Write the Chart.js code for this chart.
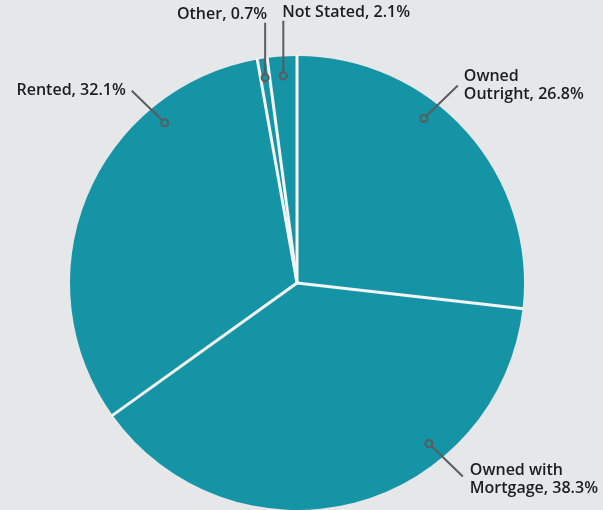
<!DOCTYPE html>
<html>
<head>
<meta charset="utf-8">
<script src="https://cdn.jsdelivr.net/npm/chart.js@4.4.1/dist/chart.umd.min.js"></script>
<style>
  html, body { margin: 0; padding: 0; background: #e6e7e9; }
  #wrap { width: 603px; height: 510px; position: relative; }
</style>
</head>
<body>
<div id="wrap"><canvas id="tenureChart"></canvas></div>
<script>
// Household tenure breakdown (percent of households)
const categories = [['Owned', 'Outright'], ['Owned with', 'Mortgage'], 'Rented', 'Other', 'Not Stated'];
const shares = [26.8, 38.3, 32.1, 0.7, 2.1];

// Where each callout sits: fraction across the slice, leader line offset, text offset/alignment
const callouts = [
    { frac: 0.39, line: [34, -33], text: [6, -9], align: 'left' },
    { frac: 0.32, line: [34, 33], text: [7, -6], align: 'left' },
    { frac: 0.745, line: [-33, -32], text: [-6, 0], align: 'right' },
    { frac: 0.5, line: [0, -55], text: [2, -8], align: 'right' },
    { frac: 0.5, line: [0, -55], text: [-1, -8], align: 'left' }
];

const sliceColor = '#1594a5';

// white separators between slices, drawn only along the radii (no rim outline)
const separatorPlugin = {
    id: 'separators',
    afterDatasetsDraw(chart) {
        const ctx = chart.ctx;
        ctx.save();
        ctx.strokeStyle = '#f4f4f4';
        ctx.lineWidth = 3;
        chart.getDatasetMeta(0).data.forEach(arc => {
            const { x, y, startAngle, outerRadius } = arc.getProps(['x', 'y', 'startAngle', 'outerRadius'], true);
            ctx.beginPath();
            ctx.moveTo(x, y);
            ctx.lineTo(x + Math.cos(startAngle) * (outerRadius + 1), y + Math.sin(startAngle) * (outerRadius + 1));
            ctx.stroke();
        });
        ctx.restore();
    }
};

const calloutPlugin = {
    id: 'callouts',
    afterDatasetsDraw(chart) {
        const ctx = chart.ctx;
        const arcs = chart.getDatasetMeta(0).data;
        ctx.save();
        ctx.font = '600 16px "Open Sans"';
        ctx.textBaseline = 'middle';
        arcs.forEach((arc, i) => {
            const c = callouts[i];
            const { x, y, startAngle, endAngle, outerRadius } = arc.getProps(['x', 'y', 'startAngle', 'endAngle', 'outerRadius'], true);
            const a = startAngle + (endAngle - startAngle) * c.frac;
            const r = outerRadius * 0.915;
            const px = x + Math.cos(a) * r;
            const py = y + Math.sin(a) * r;
            const ex = px + c.line[0];
            const ey = py + c.line[1];

            // leader line
            ctx.strokeStyle = '#5b5b5d';
            ctx.lineWidth = 2;
            ctx.beginPath();
            ctx.moveTo(px, py);
            ctx.lineTo(ex, ey);
            ctx.stroke();

            // small ring at the slice end
            ctx.fillStyle = sliceColor;
            ctx.beginPath();
            ctx.arc(px, py, 3.5, 0, Math.PI * 2);
            ctx.fill();
            ctx.stroke();

            // label text, last line carries the value
            const name = chart.data.labels[i];
            const lines = Array.isArray(name) ? name.slice() : [name];
            lines[lines.length - 1] += ', ' + shares[i] + '%';
            ctx.fillStyle = '#1d1d1f';
            ctx.textAlign = c.align;
            const lh = 18;
            lines.forEach((ln, k) => {
                ctx.fillText(ln, ex + c.text[0], ey + c.text[1] + k * lh);
            });
        });
        ctx.restore();
    }
};

new Chart(document.getElementById('tenureChart').getContext('2d'), {
    type: 'pie',
    data: {
        labels: categories,
        datasets: [{
            data: shares,
            backgroundColor: sliceColor,
            borderWidth: 0
        }]
    },
    options: {
        responsive: true,
        maintainAspectRatio: false,
        animation: false,
        layout: {
            padding: { left: 70, right: 79, top: 56, bottom: 0 }
        },
        plugins: {
            legend: { display: false },
            tooltip: { enabled: false }
        }
    },
    plugins: [separatorPlugin, calloutPlugin]
});
</script>
</body>
</html>
